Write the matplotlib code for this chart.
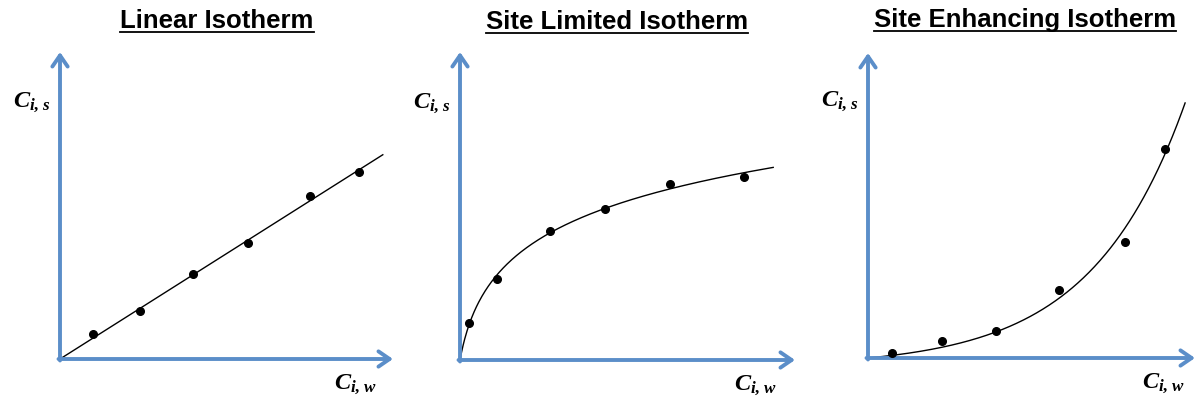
import numpy as np
import matplotlib
matplotlib.use("Agg")
import matplotlib.pyplot as plt
from matplotlib.lines import Line2D

plt.rcParams["mathtext.fontset"] = "custom"
plt.rcParams["mathtext.it"] = "Liberation Serif:style=italic:weight=bold"
plt.rcParams["mathtext.rm"] = "Liberation Serif:weight=bold"
plt.rcParams["mathtext.bf"] = "Liberation Serif:weight=bold"

W, H = 1197, 401
PX = 30.0  # pixels per concentration unit

titles = ["Linear Isotherm", "Site Limited Isotherm", "Site Enhancing Isotherm"]
ylabel = r"$C_{i,\,s}$"
xlabel = r"$C_{i,\,w}$"

# Measured sorbed (C_i,s) vs. dissolved (C_i,w) concentrations
linear_cw = np.array([1.09, 2.67, 4.44, 6.26, 8.33, 9.97])
linear_cs = np.array([0.82, 1.60, 2.83, 3.86, 5.43, 6.24])

limited_cw = np.array([0.30, 1.22, 3.00, 4.83, 7.00, 9.48])
limited_cs = np.array([1.24, 2.69, 4.31, 5.03, 5.87, 6.11])

enhancing_cw = np.array([0.80, 2.47, 4.27, 6.36, 8.56, 9.89])
enhancing_cs = np.array([0.17, 0.58, 0.91, 2.26, 3.87, 6.97])

# Extent of each fitted curve along C_i,w
curve_end = [10.76, 10.44, 10.57]


def fit_linear(x, y):
    k = (x @ y) / (x @ x)
    return lambda t: k * t


def fit_log(x, y):
    best = None
    for c in np.linspace(0.02, 5.0, 2000):
        f = np.log1p(x / c)
        a = (f @ y) / (f @ f)
        r = np.sum((a * f - y) ** 2)
        if best is None or r < best[0]:
            best = (r, a, c)
    _, a, c = best
    return lambda t: a * np.log1p(t / c)


def fit_exp(x, y):
    best = None
    for b in np.linspace(0.05, 1.0, 2000):
        f = np.expm1(b * x)
        a = (f @ y) / (f @ f)
        r = np.sum((a * f - y) ** 2)
        if best is None or r < best[0]:
            best = (r, a, b)
    _, a, b = best
    return lambda t: a * np.expm1(b * t)


datasets = [
    (linear_cw, linear_cs, fit_linear),
    (limited_cw, limited_cs, fit_log),
    (enhancing_cw, enhancing_cs, fit_exp),
]

# panel origins (px from left, px from top) and arrow lengths (px)
origins = [(60, 359), (460, 360), (868, 358)]
x_len = [333, 335, 327]
y_len = [307, 308, 305]

blue = "#5b8ec9"

fig = plt.figure(figsize=(W / 100, H / 100), dpi=100)
title_texts = []

for i, (cw, cs, fitter) in enumerate(datasets):
    ox, oy = origins[i]
    ax = fig.add_axes([ox / W, (H - oy) / H, x_len[i] / W, y_len[i] / H])
    xmax, ymax = x_len[i] / PX, y_len[i] / PX
    ax.set_xlim(0, xmax)
    ax.set_ylim(0, ymax)
    ax.axis("off")

    arrow = dict(arrowstyle="->,head_length=0.8,head_width=0.55",
                 color=blue, lw=2.8, mutation_scale=10,
                 shrinkA=0, shrinkB=0)
    ax.annotate("", xy=(xmax, 0), xytext=(-0.05, 0), arrowprops=arrow,
                annotation_clip=False)
    ax.annotate("", xy=(0, ymax), xytext=(0, -0.05), arrowprops=arrow,
                annotation_clip=False)

    model = fitter(cw, cs)
    t = np.linspace(0, curve_end[i], 400)
    ax.plot(t, model(t), color="black", lw=1.0, clip_on=False, zorder=2)
    ax.plot(cw, cs, "o", color="black", ms=5.5, clip_on=False, zorder=3)

    ax.annotate(ylabel, xy=(0, 0), xytext=(-47, 252), textcoords="offset pixels",
                ha="left", va="baseline", fontsize=17.5, color="black",
                annotation_clip=False)
    ax.annotate(xlabel, xy=(0, 0), xytext=(274, -30), textcoords="offset pixels",
                ha="left", va="baseline", fontsize=17.5, color="black",
                annotation_clip=False)

    tt = ax.annotate(titles[i], xy=(0, 0), xytext=(157, 331),
                     textcoords="offset pixels", ha="center", va="baseline",
                     fontsize=18.5, fontweight="bold", family="Liberation Sans",
                     annotation_clip=False)
    title_texts.append(tt)

fig.canvas.draw()
renderer = fig.canvas.get_renderer()
for i, tt in enumerate(title_texts):
    bb = tt.get_window_extent(renderer)
    base = (H - origins[i][1]) + 331
    yline = (base - 4) / H
    fig.add_artist(Line2D([bb.x0 / W, bb.x1 / W], [yline, yline],
                          transform=fig.transFigure, color="black", lw=1.3))

fig.savefig("out.png", dpi=100)
